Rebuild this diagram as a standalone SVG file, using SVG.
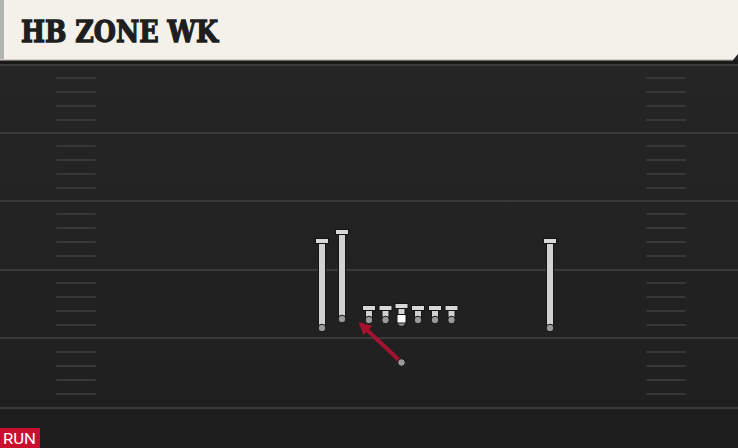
<svg xmlns="http://www.w3.org/2000/svg" width="738" height="448" viewBox="0 0 738 448">
  <defs>
    <linearGradient id="field" x1="0" y1="0" x2="0" y2="1">
      <stop offset="0" stop-color="#262626"/>
      <stop offset="1" stop-color="#1f1f1f"/>
    </linearGradient>
    <marker id="arrowRed" viewBox="0 0 10 10" refX="2" refY="5" markerWidth="3.2" markerHeight="3.2" orient="auto-start-reverse">
      <path d="M0,0 L10,5 L0,10 z" fill="#a3122f"/>
    </marker>
  </defs>
  <style>
    .yard { stroke: #3a3a3a; stroke-width: 2; }
    .hash { stroke: #383838; stroke-width: 2; stroke-linecap: round; }
    .route-out { stroke: #151515; stroke-width: 8; stroke-linecap: butt; }
    .route { stroke: #d2d2d2; stroke-width: 6; stroke-linecap: butt; }
    .bar { fill: #d8d8d8; stroke: #151515; stroke-width: 1; }
    .dot { fill: #9a9a9a; stroke: #151515; stroke-width: 1; }
    .title { font-family: "DejaVu Serif", "Liberation Serif", serif; font-weight: bold; font-size: 29px; fill: #1e1e1e; stroke: #1e1e1e; stroke-width: 1.3; }
    .tag { font-family: Roboto, "Liberation Sans", sans-serif; font-size: 15px; fill: #ffffff; }
  </style>

  <!-- field -->
  <rect x="0" y="0" width="738" height="448" fill="url(#field)"/>
  <rect x="0" y="408" width="738" height="40" fill="#1e1e1e"/>
  <rect x="0" y="60" width="738" height="4" fill="#191919"/>

  <g id="yard-lines">
    <line class="yard" x1="0" y1="65" x2="738" y2="65"/>
    <line class="yard" x1="0" y1="133" x2="738" y2="133"/>
    <line class="yard" x1="0" y1="201" x2="738" y2="201"/>
    <line class="yard" x1="0" y1="270" x2="738" y2="270"/>
    <line class="yard" x1="0" y1="338" x2="738" y2="338"/>
    <line class="yard" x1="0" y1="408" x2="738" y2="408"/>
  </g>

  <g id="hash-marks">
    <path class="hash" d="M57,78H95M57,92H95M57,106H95M57,120H95M57,146H95M57,160H95M57,174H95M57,188H95M57,214H95M57,228H95M57,242H95M57,256H95M57,283H95M57,297H95M57,311H95M57,325H95M57,352H95M57,366H95M57,380H95M57,394H95"/>
    <path class="hash" d="M647,78H685M647,92H685M647,106H685M647,120H685M647,146H685M647,160H685M647,174H685M647,188H685M647,214H685M647,228H685M647,242H685M647,256H685M647,283H685M647,297H685M647,311H685M647,325H685M647,352H685M647,366H685M647,380H685M647,394H685"/>
  </g>

  <!-- header -->
  <g id="header">
    <path d="M0,0 H738 V54 L733,60 H0 Z" fill="#f4f1ea"/>
    <rect x="0" y="0" width="4" height="60" fill="#b4b4b0"/>
    <rect x="0" y="59" width="733" height="1.5" fill="#cfcbc2"/>
    <text class="title" x="21" y="42" textLength="197" lengthAdjust="spacingAndGlyphs">HB ZONE WK</text>
  </g>

  <!-- players -->
  <g id="wr-left">
    <line class="route-out" x1="322" y1="241" x2="322" y2="328"/>
    <line class="route" x1="322" y1="241" x2="322" y2="328"/>
    <rect class="bar" x="315.5" y="238.5" width="13" height="5"/>
    <circle class="dot" cx="322" cy="328" r="3.8"/>
  </g>
  <g id="te-left">
    <line class="route-out" x1="342" y1="232" x2="342" y2="319"/>
    <line class="route" x1="342" y1="232" x2="342" y2="319"/>
    <rect class="bar" x="335.5" y="229.5" width="13" height="5"/>
    <circle class="dot" cx="342" cy="319" r="3.8"/>
  </g>
  <g id="lt">
    <line class="route-out" x1="369" y1="308" x2="369" y2="320"/>
    <line class="route" x1="369" y1="308" x2="369" y2="320"/>
    <rect class="bar" x="362.5" y="305.5" width="13" height="5"/>
    <circle class="dot" cx="369" cy="320" r="3.8"/>
  </g>
  <g id="lg">
    <line class="route-out" x1="385.5" y1="308" x2="385.5" y2="320"/>
    <line class="route" x1="385.5" y1="308" x2="385.5" y2="320"/>
    <rect class="bar" x="379" y="305.5" width="13" height="5"/>
    <circle class="dot" cx="385.5" cy="320" r="3.8"/>
  </g>
  <g id="center">
    <circle class="dot" cx="401.5" cy="322" r="4.3"/>
    <line class="route-out" x1="401.5" y1="306" x2="401.5" y2="316"/>
    <line class="route" x1="401.5" y1="306" x2="401.5" y2="316"/>
    <rect class="bar" x="395" y="303.5" width="13" height="5"/>
    <rect x="397" y="314.5" width="9" height="8.5" fill="#ffffff" stroke="#151515" stroke-width="1"/>
  </g>
  <g id="rg">
    <line class="route-out" x1="418" y1="308" x2="418" y2="320"/>
    <line class="route" x1="418" y1="308" x2="418" y2="320"/>
    <rect class="bar" x="411.5" y="305.5" width="13" height="5"/>
    <circle class="dot" cx="418" cy="320" r="3.8"/>
  </g>
  <g id="rt-2">
    <line class="route-out" x1="435" y1="308" x2="435" y2="320"/>
    <line class="route" x1="435" y1="308" x2="435" y2="320"/>
    <rect class="bar" x="428.5" y="305.5" width="13" height="5"/>
    <circle class="dot" cx="435" cy="320" r="3.8"/>
  </g>
  <g id="rt">
    <line class="route-out" x1="451.5" y1="308" x2="451.5" y2="320"/>
    <line class="route" x1="451.5" y1="308" x2="451.5" y2="320"/>
    <rect class="bar" x="445" y="305.5" width="13" height="5"/>
    <circle class="dot" cx="451.5" cy="320" r="3.8"/>
  </g>
  <g id="wr-right">
    <line class="route-out" x1="550" y1="241" x2="550" y2="328"/>
    <line class="route" x1="550" y1="241" x2="550" y2="328"/>
    <rect class="bar" x="543.5" y="238.5" width="13" height="5"/>
    <circle class="dot" cx="550" cy="328" r="3.8"/>
  </g>

  <g id="connectors">
    <line x1="401" y1="362" x2="366" y2="329" stroke="#a3122f" stroke-width="4" marker-end="url(#arrowRed)"/>
  </g>

  <g id="rb">
    <circle class="dot" cx="401.5" cy="362.5" r="3.8"/>
  </g>

  <!-- tag -->
  <g id="run-tag">
    <rect x="0" y="428" width="40" height="20" fill="#c8102e"/>
    <text class="tag" x="3" y="444" textLength="33" lengthAdjust="spacingAndGlyphs">RUN</text>
  </g>
</svg>
